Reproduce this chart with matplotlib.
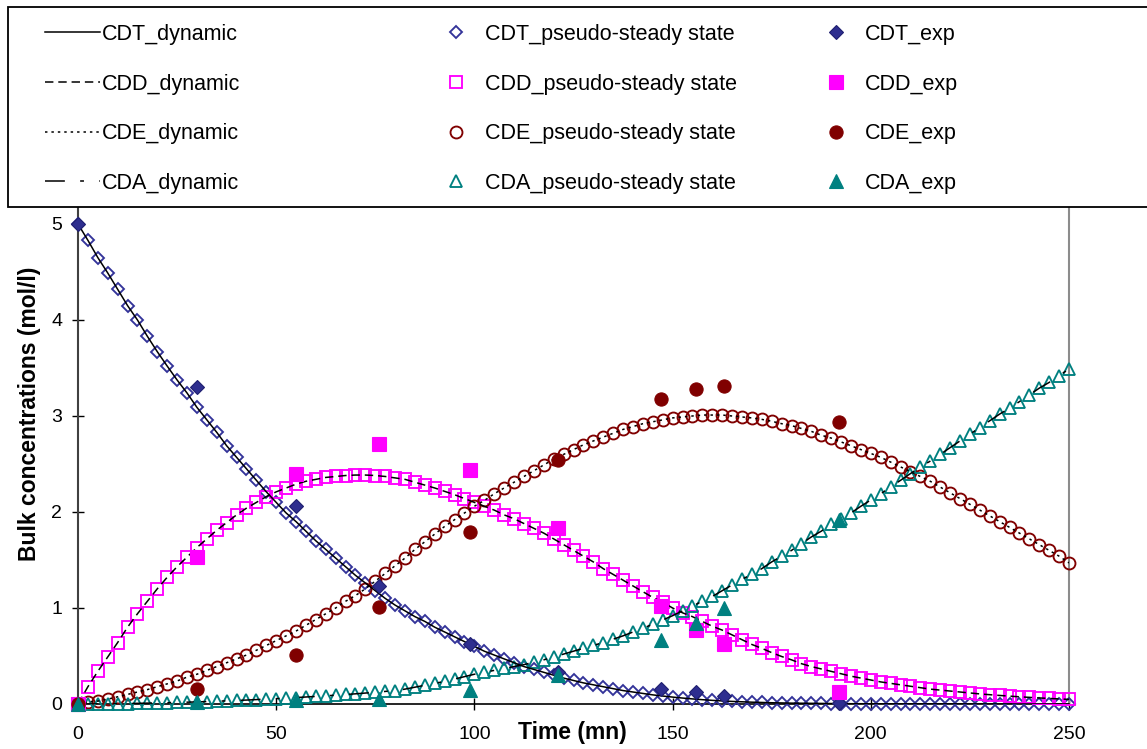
import numpy as np
import matplotlib
matplotlib.use("Agg")
import matplotlib.pyplot as plt
from matplotlib.patches import Rectangle

plt.rcParams['font.family'] = ['Liberation Sans', 'DejaVu Sans']

# ---------------- data ----------------
time_pss = np.arange(0, 252.5, 2.5)  # model sampling grid (every 2.5 min)

cdt_pss = [5.00, 4.83, 4.65, 4.49, 4.32, 4.15, 4.00, 3.83, 3.67, 3.52,
           3.375, 3.24, 3.09, 2.96, 2.83, 2.69, 2.57, 2.45, 2.33, 2.21,
           2.10, 1.99, 1.90, 1.80, 1.70, 1.61, 1.52, 1.43, 1.34, 1.26,
           1.18, 1.10, 1.03, 0.97, 0.91, 0.86, 0.80, 0.75, 0.70, 0.65,
           0.60, 0.55, 0.51, 0.47, 0.43, 0.39, 0.36, 0.33, 0.30, 0.27,
           0.245, 0.22, 0.20, 0.18, 0.16, 0.14, 0.125, 0.11, 0.095, 0.083,
           0.072, 0.062, 0.053, 0.045, 0.038, 0.032, 0.027, 0.023, 0.019, 0.016,
           0.013, 0.011, 0.009, 0.008, 0.007, 0.006, 0.005, 0.004, 0.003, 0.003,
           0.002, 0.002, 0.002, 0.001, 0.001, 0.001, 0.001, 0.001, 0.001, 0.001,
           0.0, 0.0, 0.0, 0.0, 0.0, 0.0, 0.0, 0.0, 0.0, 0.0, 0.0]

cdd_pss = [0.00, 0.18, 0.34, 0.49, 0.64, 0.80, 0.94, 1.07, 1.20, 1.32,
           1.43, 1.53, 1.63, 1.72, 1.81, 1.89, 1.97, 2.04, 2.10, 2.16,
           2.21, 2.25, 2.29, 2.32, 2.34, 2.36, 2.37, 2.38, 2.385, 2.385,
           2.38, 2.37, 2.355, 2.34, 2.31, 2.28, 2.25, 2.215, 2.18, 2.14,
           2.10, 2.06, 2.02, 1.97, 1.93, 1.88, 1.83, 1.78, 1.72, 1.66,
           1.60, 1.54, 1.48, 1.41, 1.35, 1.29, 1.23, 1.17, 1.11, 1.06,
           1.00, 0.95, 0.91, 0.86, 0.81, 0.77, 0.72, 0.67, 0.62, 0.58,
           0.535, 0.495, 0.46, 0.42, 0.39, 0.365, 0.34, 0.315, 0.29, 0.27,
           0.25, 0.23, 0.215, 0.20, 0.185, 0.17, 0.155, 0.145, 0.135, 0.125,
           0.115, 0.105, 0.097, 0.089, 0.082, 0.075, 0.069, 0.063, 0.058, 0.053,
           0.048]

cde_pss = [0.00, 0.02, 0.03, 0.05, 0.075, 0.10, 0.125, 0.15, 0.18, 0.21,
           0.24, 0.28, 0.31, 0.35, 0.39, 0.43, 0.47, 0.51, 0.56, 0.61,
           0.66, 0.71, 0.76, 0.82, 0.88, 0.94, 1.00, 1.07, 1.13, 1.20,
           1.28, 1.36, 1.44, 1.52, 1.61, 1.69, 1.77, 1.85, 1.92, 1.99,
           2.06, 2.12, 2.19, 2.25, 2.31, 2.37, 2.43, 2.49, 2.55, 2.60,
           2.65, 2.70, 2.74, 2.78, 2.82, 2.86, 2.89, 2.92, 2.94, 2.96,
           2.98, 2.99, 3.00, 3.01, 3.01, 3.01, 3.00, 2.99, 2.98, 2.965,
           2.945, 2.92, 2.90, 2.87, 2.84, 2.80, 2.77, 2.73, 2.69, 2.65,
           2.61, 2.57, 2.52, 2.47, 2.42, 2.37, 2.32, 2.26, 2.20, 2.14,
           2.08, 2.02, 1.96, 1.90, 1.84, 1.78, 1.72, 1.66, 1.60, 1.54,
           1.47]

cda_pss = [0.0, 0.0, 0.001, 0.002, 0.003, 0.005, 0.007, 0.009, 0.011, 0.013,
           0.016, 0.019, 0.022, 0.025, 0.029, 0.033, 0.037, 0.041, 0.046, 0.051,
           0.056, 0.061, 0.067, 0.073, 0.079, 0.085, 0.092, 0.099, 0.106, 0.114,
           0.122, 0.131, 0.14, 0.155, 0.175, 0.195, 0.215, 0.235, 0.26, 0.285,
           0.31, 0.33, 0.35, 0.37, 0.39, 0.41, 0.435, 0.46, 0.49, 0.52,
           0.55, 0.58, 0.61, 0.64, 0.675, 0.71, 0.75, 0.79, 0.83, 0.875,
           0.92, 0.97, 1.02, 1.07, 1.12, 1.18, 1.24, 1.30, 1.35, 1.41,
           1.48, 1.54, 1.60, 1.67, 1.74, 1.80, 1.87, 1.93, 1.99, 2.06,
           2.125, 2.19, 2.26, 2.33, 2.40, 2.47, 2.53, 2.60, 2.67, 2.74,
           2.81, 2.88, 2.95, 3.02, 3.08, 3.15, 3.22, 3.29, 3.35, 3.42,
           3.49]

# dynamic model curves (coincide with the pseudo-steady state ones)
cdt_dyn = cdt_pss
cdd_dyn = cdd_pss
cde_dyn = cde_pss
cda_dyn = cda_pss

time_exp = [0, 30, 55, 76, 99, 121, 147, 156, 163, 192]
cdt_exp = [5.00, 3.30, 2.06, 1.23, 0.63, 0.33, 0.16, 0.12, 0.08, 0.01]
cdd_exp = [0.0, 1.53, 2.40, 2.71, 2.44, 1.83, 1.02, 0.77, 0.62, 0.13]
cde_exp = [0.0, 0.16, 0.51, 1.01, 1.79, 2.54, 3.18, 3.28, 3.31, 2.94]
cda_exp = [0.0, 0.02, 0.04, 0.05, 0.15, 0.30, 0.67, 0.84, 1.00, 1.92]

x_ticks = [0, 50, 100, 150, 200, 250]
y_ticks = [0, 1, 2, 3, 4, 5]

# ---------------- figure ----------------
W, H = 1147, 749
fig = plt.figure(figsize=(W / 100, H / 100), dpi=100)
ax = fig.add_axes([78 / W, (H - 704) / H, 991 / W, (704 - 207) / H])

C_T = '#333399'
C_D = '#FF00FF'
C_E = '#800000'
C_A = '#008080'

lw = 1.1
dyn_styles = {
    'CDT_dynamic': dict(ls='-'),
    'CDD_dynamic': dict(ls=(0, (5.5, 3.2))),
    'CDE_dynamic': dict(ls=(0, (1.6, 2.6))),
    'CDA_dynamic': dict(ls=(0, (13, 10, 2.5, 10))),
}

h_dyn = []
for name, y in [('CDT_dynamic', cdt_dyn), ('CDD_dynamic', cdd_dyn),
                ('CDE_dynamic', cde_dyn), ('CDA_dynamic', cda_dyn)]:
    ln, = ax.plot(time_pss, y, color='black', lw=lw, label=name,
                  zorder=4, **dyn_styles[name])
    h_dyn.append(ln)

pss_spec = [('CDT_pseudo-steady state', cdt_pss, 'D', 6.3, C_T),
            ('CDD_pseudo-steady state', cdd_pss, 's', 8.6, C_D),
            ('CDE_pseudo-steady state', cde_pss, 'o', 8.6, C_E),
            ('CDA_pseudo-steady state', cda_pss, '^', 9.2, C_A)]
h_pss = []
for name, y, m, ms, c in pss_spec:
    ln, = ax.plot(time_pss, y, ls='none', marker=m, ms=ms, mfc='none',
                  mec=c, mew=1.35, label=name, clip_on=False, zorder=3)
    h_pss.append(ln)

exp_spec = [('CDT_exp', cdt_exp, 'D', 7.0, '#2E2E8F', '#1F1F70'),
            ('CDD_exp', cdd_exp, 's', 9.5, C_D, C_D),
            ('CDE_exp', cde_exp, 'o', 9.5, C_E, C_E),
            ('CDA_exp', cda_exp, '^', 10.0, C_A, C_A)]
h_exp = []
for name, y, m, ms, fc, ec in exp_spec:
    ln, = ax.plot(time_exp, y, ls='none', marker=m, ms=ms, mfc=fc,
                  mec=ec, mew=0.8, label=name, clip_on=False, zorder=5)
    h_exp.append(ln)

ax.set_xlim(0, 250)
ax.set_ylim(0, 5 + 17 / 96)
ax.set_xticks(x_ticks)
ax.set_yticks(y_ticks)
ax.tick_params(axis='both', direction='inout', length=8, width=1.0,
               labelsize=14, colors='black')
ax.tick_params(axis='y', pad=7.5)
ax.tick_params(axis='x', pad=12)

ax.spines['top'].set_visible(False)
ax.spines['left'].set_color('#404040')
ax.spines['left'].set_linewidth(1.5)
ax.spines['bottom'].set_color('#000000')
ax.spines['bottom'].set_linewidth(1.2)
ax.spines['right'].set_color('#8C8C8C')
ax.spines['right'].set_linewidth(1.5)

ax.set_xlabel('Time (mn)', fontsize=16.5, fontweight='bold')
ax.xaxis.set_label_coords((572 - 78) / 991, (704 - 732) / 497)
ax.xaxis.label.set_va('center')
ax.set_ylabel('Bulk concentrations (mol/l)', fontsize=16.5, fontweight='bold')
ax.yaxis.set_label_coords((30 - 78) / 991, (704 - 414) / 497)
ax.yaxis.label.set_va('center')

# ---------------- legend ----------------
fig.add_artist(Rectangle((8 / W, (H - 207) / H), 1.02, 200 / H,
                         transform=fig.transFigure, facecolor='white',
                         edgecolor='black', lw=1.3, zorder=10))

fs_leg = 15.5
col_x = [45, 428, 808]
for cx, handles in zip(col_x, [h_dyn, h_pss, h_exp]):
    leg = fig.legend(handles=handles, labels=[h.get_label() for h in handles],
                     loc='upper left', bbox_to_anchor=(cx / W, 1 - 24 / H),
                     frameon=False, fontsize=fs_leg, handlelength=2.56,
                     handletextpad=0.1, borderpad=0, borderaxespad=0,
                     labelspacing=1.33, numpoints=1)
    leg.set_zorder(11)

fig.savefig('out.png', dpi=100)
